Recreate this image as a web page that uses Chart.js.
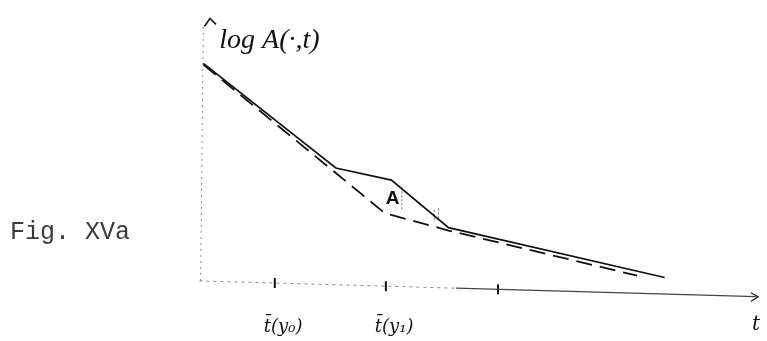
<!DOCTYPE html>
<html>
<head>
<meta charset="utf-8">
<script src="https://cdn.jsdelivr.net/npm/chart.js@4/dist/chart.umd.min.js"></script>
<style>
    html, body { margin: 0; padding: 0; background: #fff; }
    #wrap { position: relative; width: 767px; height: 341px; }
    #caption {
        position: absolute; left: 10px; top: 220px;
        font: 25px/25px "Liberation Mono", monospace; color: #3a3a3a;
        white-space: pre;
    }
</style>
</head>
<body>
<div id="wrap">
    <canvas id="fig" width="767" height="341"></canvas>
    <div id="caption">Fig. XVa</div>
</div>
<script>
    // values (t along the axis, log A upwards)
    var solidT = [0, 2.41, 3.42, 4.46, 8.39];
    var solidLogA = [8.3, 4.33, 3.87, 2.07, 0.18];
    var dashedT = [0, 3.30, 4.46, 7.89];
    var dashedLogA = [8.25, 2.62, 1.96, 0.25];

    var tickT = [1.30, 3.32, 5.36];
    var tickLabels = ['t\u0304(y\u2080)', 't\u0304(y\u2081)', ''];

    var axisT = [-0.07, 10.05];
    var axisLogA = [0.05, -0.55];
    var yAxisT = [-0.05, 0];
    var yAxisLogA = [0.05, 9.71];

    var hatchT = [3.61, 4.20, 4.28];
    var hatchTop = [3.6, 2.75, 2.8];
    var hatchBottom = [2.7, 2.35, 2.4];

    function pts(xs, ys) {
        return xs.map(function (x, i) { return { x: x, y: ys[i] }; });
    }

    function axisY(t) {
        // tick marks sit on the (slightly tilted) hand drawn t axis
        var k = (axisLogA[1] - axisLogA[0]) / (axisT[1] - axisT[0]);
        return axisLogA[0] + k * (t - axisT[0]);
    }

    var line = function (data, color, width, dash) {
        return {
            data: data, borderColor: color, borderWidth: width,
            borderDash: dash || [], pointRadius: 0, tension: 0, fill: false
        };
    };

    var datasets = [
        line(pts(yAxisT, yAxisLogA), '#8a8a8a', 1, [2, 4]),
        line([{ x: axisT[0], y: axisY(axisT[0]) }, { x: 4.6, y: axisY(4.6) }], '#8a8a8a', 1, [3, 4]),
        line([{ x: 4.6, y: axisY(4.6) }, { x: axisT[1], y: axisY(axisT[1]) }], '#444', 1.3),
        line(pts([0.02, 0.12, 0.23], [9.7, 10.0, 9.78]), '#111', 1.6),
        line(pts([9.96, 10.09, 9.96], [-0.4, -0.55, -0.73]), '#222', 1.4),
        line(pts(solidT, solidLogA), '#111', 1.7),
        line(pts(dashedT, dashedLogA), '#111', 1.8, [16, 8]),
        {
            type: 'scatter',
            data: tickT.map(function (t) { return { x: t, y: axisY(t) }; }),
            pointStyle: 'line', rotation: 90, pointRadius: 5,
            borderColor: '#111', borderWidth: 2
        }
    ];
    hatchT.forEach(function (t, i) {
        datasets.push(line(pts([t, t], [hatchTop[i], hatchBottom[i]]), '#777', 1, [2, 2]));
    });

    var textPlugin = {
        id: 'sketchText',
        afterDraw: function (chart) {
            var ctx = chart.ctx;
            var xs = chart.scales.x, ys = chart.scales.y;
            ctx.save();
            ctx.fillStyle = '#111';
            ctx.textBaseline = 'alphabetic';
            ctx.textAlign = 'left';

            ctx.font = 'italic 28px "Liberation Serif"';
            ctx.fillText('log A(\u00b7,t)', xs.getPixelForValue(0) + 16, ys.getPixelForValue(8.87));

            ctx.font = 'italic 18px "DejaVu Serif"';
            tickT.forEach(function (t, i) {
                if (tickLabels[i]) {
                    ctx.fillText(tickLabels[i], xs.getPixelForValue(t) - 11, 332);
                }
            });
            ctx.font = 'italic 20px "DejaVu Serif"';
            ctx.fillText('t', xs.getPixelForValue(axisT[1]) - 4, 330);

            ctx.font = 'bold 19px "Liberation Sans"';
            ctx.fillText('A', xs.getPixelForValue(3.32), ys.getPixelForValue(2.95));
            ctx.restore();
        }
    };

    new Chart(document.getElementById('fig'), {
        type: 'line',
        data: { datasets: datasets },
        options: {
            responsive: false,
            animation: false,
            layout: { padding: 0 },
            plugins: { legend: { display: false }, tooltip: { enabled: false } },
            scales: {
                x: { type: 'linear', min: -3.571, max: 10.125, display: false },
                y: { type: 'linear', min: -1.964, max: 10.436, display: false }
            }
        },
        plugins: [textPlugin]
    });
</script>
</body>
</html>
